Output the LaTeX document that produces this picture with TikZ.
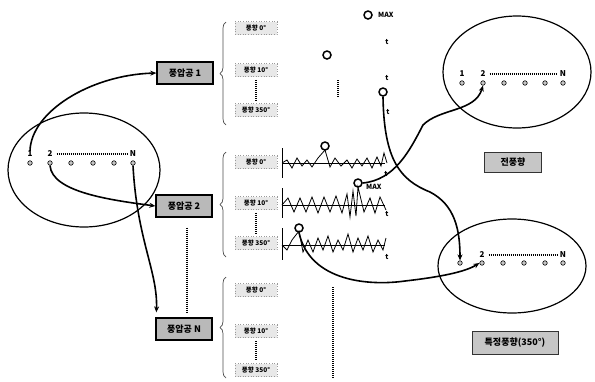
\documentclass[tikz,border=0pt]{standalone}
\usepackage{fontspec}
\setmainfont{Noto Sans CJK KR}
\usetikzlibrary{arrows.meta,decorations.pathreplacing,calc}
\begin{document}
\begin{tikzpicture}[x=1pt,y=-1pt,
  tap/.style={draw=black,line width=1.3pt,fill=gray!55,minimum width=56pt,minimum height=22pt,inner sep=0pt,font=\bfseries\fontsize{9}{9}\selectfont},
  dirbox/.style={draw=gray!80,line width=0.6pt,dotted,fill=gray!18,minimum width=42pt,minimum height=13pt,inner sep=0pt,font=\bfseries\fontsize{6.5}{7}\selectfont},
  resbox/.style={draw=black!80,line width=0.8pt,fill=gray!45,inner sep=0pt,font=\bfseries\fontsize{9}{9}\selectfont},
  dot/.style={circle,draw=black,fill=gray!45,line width=0.6pt,minimum size=4.5pt,inner sep=0pt},
  lab/.style={font=\bfseries\fontsize{8}{8}\selectfont,inner sep=0pt},
  tlab/.style={font=\bfseries\fontsize{7}{7}\selectfont,inner sep=0pt},
  maxc/.style={circle,draw=black,line width=1.5pt,minimum size=8pt,inner sep=0pt},
  conn/.style={line width=1.6pt,-{Stealth[length=6pt,width=5pt]}},
  oval/.style={line width=1.2pt},
  dotline/.style={line width=1.8pt,dash pattern=on 1.2pt off 0.8pt},
  brc/.style={draw=gray!60!black,line width=0.7pt,decorate,decoration={brace,amplitude=6pt}},
  wave/.style={line width=0.8pt},
  axis/.style={line width=0.9pt}]
\useasboundingbox (0,0) rectangle (595,381);

% ---------- ellipses ----------
\draw[oval] (84,170) ellipse [x radius=76, y radius=57];
\draw[oval] (517,72) ellipse [x radius=74, y radius=56];
\draw[oval] (512,266) ellipse [x radius=74, y radius=47];

% ---------- left ellipse taps ----------
\foreach \n/\x in {1/30,2/50,3/71,4/93,5/114,6/133}{\node[dot] (L\n) at (\x,163) {};}
\node[lab] (l1) at (30,154) {1};
\node[lab] (l2) at (50,154) {2};
\node[lab] (lN) at (133,154) {N};
\draw[dotline] ($(l2.east)+(4,0)$) -- ($(lN.west)+(-3,0)$);

% ---------- top right ellipse taps ----------
\foreach \n/\x in {1/462,2/483,3/504,4/525,5/545,6/563}{\node[dot] (R\n) at (\x,83) {};}
\node[lab] (r1) at (462,74) {1};
\node[lab] (r2) at (483,74) {2};
\node[lab] (rN) at (563,74) {N};
\draw[dotline] ($(r2.east)+(4,0)$) -- ($(rN.west)+(-3,0)$);

% ---------- bottom right ellipse taps ----------
\foreach \n/\x in {1/460,2/482,3/503,4/524,5/545,6/563}{\node[dot] (S\n) at (\x,263) {};}
\node[lab] (s2) at (482,255) {2};
\node[lab] (sN) at (563,255) {N};
\draw[dotline] ($(s2.east)+(4,0)$) -- ($(sN.west)+(-3,0)$);

% ---------- pressure tap boxes ----------
\node[tap] (b1) at (185,73) {풍압공 1};
\node[tap] (b2) at (184,206) {풍압공 2};
\node[tap] (bN) at (184,329) {풍압공 N};
\draw[dotline] ($(b2.south)+(3,10)$) -- ($(bN.north)+(3,-5)$);

% ---------- braces ----------
\draw[brc] (226,125) -- (226,22);
\draw[brc] (226,257) -- (226,152);
\draw[brc] (226,378) -- (226,277);

% ---------- wind direction boxes ----------
\node[dirbox] (d10) at (256,28) {풍향 0°};
\node[dirbox] (d11) at (256,70) {풍향 10°};
\node[dirbox] (d12) at (256,110) {풍향 350°};
\draw[dotline] ($(d11.south)+(0,3)$) -- ($(d12.north)+(0,-3)$);
\node[dirbox] (d20) at (256,162) {풍향 0°};
\node[dirbox] (d21) at (256,203) {풍향 10°};
\node[dirbox] (d22) at (256,243) {풍향 350°};
\draw[dotline] ($(d21.south)+(0,3)$) -- ($(d22.north)+(0,-3)$);
\node[dirbox] (d30) at (256,290) {풍향 0°};
\node[dirbox] (d31) at (256,331) {풍향 10°};
\node[dirbox] (d32) at (256,370) {풍향 350°};
\draw[dotline] ($(d31.south)+(0,3)$) -- ($(d32.north)+(0,-3)$);

% ---------- group 1 (maxima only) ----------
\node[maxc] (t1a) at (368,15) {};
\node[tlab,anchor=west] at (378,15) {MAX};
\node[tlab] at (387,42) {t};
\node[maxc] (t1b) at (327,55) {};
\draw[dotline] (338,80) -- (338,97);
\node[tlab] at (387,78) {t};
\node[maxc] (t1c) at (383,92) {};
\node[tlab] at (388,112) {t};

% ---------- group 2 waves ----------
\draw[axis] (282,148) -- (282,178);
\draw[axis] (282,163) -- (385,163);
\draw[wave] (282,163) -- (287,160) -- (292,168) -- (297,158) -- (302,166) -- (307,160) -- (312,167) -- (318,158) -- (325,150) -- (330,167) -- (335,158) -- (341,166) -- (347,160) -- (352,168) -- (357,159) -- (362,166) -- (367,158) -- (372,168) -- (377,157) -- (381,166) -- (384,153) -- (387,163);
\node[maxc] (mA) at (325,146) {};
\node[tlab] at (386,174) {t};

\draw[axis] (282,188) -- (282,218);
\draw[axis] (282,205) -- (385,205);
\draw[wave] (282,205) -- (288,198) -- (294,212) -- (300,198) -- (306,212) -- (312,197) -- (318,213) -- (324,197) -- (330,212) -- (336,196) -- (342,213) -- (347,194) -- (350,217) -- (353,191) -- (356,216) -- (358,187) -- (364,212) -- (370,198) -- (375,213) -- (380,197) -- (386,210);
\node[maxc] (mB) at (358,183) {};
\node[tlab,anchor=west] at (366,187) {MAX};
\node[tlab] at (387,214) {t};

\draw[axis] (282,228) -- (282,260);
\draw[axis] (282,245) -- (385,245);
\draw[wave] (282,245) -- (287,250) -- (292,240) -- (299,231) -- (303,252) -- (308,240) -- (313,252) -- (318,238) -- (323,250) -- (328,236) -- (333,252) -- (338,240) -- (343,250) -- (348,234) -- (353,252) -- (358,238) -- (363,250) -- (368,236) -- (373,252) -- (378,240) -- (383,250) -- (386,238);
\node[maxc] (mC) at (299,228) {};
\node[tlab] at (387,257) {t};

% ---------- group 3 (placeholder) ----------
\draw[dotline] (333,287) -- (333,378);

% ---------- result boxes ----------
\node[resbox,minimum width=57pt,minimum height=20pt] (all) at (513,162) {전풍향};
\node[resbox,minimum width=86pt,minimum height=23pt] (spec) at (515,343) {특정풍향(350°)};

% ---------- connectors ----------
\draw[conn] (l1.north) .. controls (31,112) and (90,75) .. (b1.west);
\draw[conn] (L2.south) .. controls (52,192) and (110,200) .. (b2.west);
\draw[conn] (L6.south) .. controls (137,240) and (158,272) .. ($(bN.north west)+(1,-5)$);
\draw[conn] (t1c.south) .. controls (384,160) and (400,180) .. (430,192) .. controls (455,205) and (460,230) .. (S1.north);
\draw[conn] (mB.east) .. controls (395,180) and (410,150) .. (423,125) .. controls (440,108) and (475,112) .. (R2.south);
\draw[conn] (mC.south) .. controls (310,282) and (370,286) .. (405,281) .. controls (440,277) and (465,272) .. (S2.west);
\end{tikzpicture}
\end{document}
